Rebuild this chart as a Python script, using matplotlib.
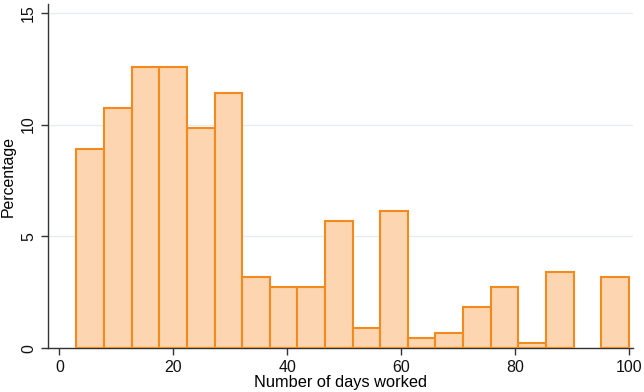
import numpy as np
import matplotlib
matplotlib.use("Agg")
import matplotlib.pyplot as plt

# histogram bins (days worked) and percentage per bin
bin_left = [3.0, 7.85, 12.7, 17.55, 22.4, 27.25, 32.1, 36.95, 41.8, 46.65,
            51.5, 56.35, 61.2, 66.05, 70.9, 75.75, 80.6, 85.45, 90.3, 95.15]
bin_width = 4.85
percent = [8.9, 10.74, 12.56, 12.56, 9.83, 11.42, 3.19, 2.74, 2.74, 5.70,
           0.91, 6.14, 0.43, 0.68, 1.82, 2.74, 0.24, 3.41, 0.0, 3.19]

x_ticks = [0, 20, 40, 60, 80, 100]
y_ticks = [0, 5, 10, 15]

plt.rcParams['font.family'] = ['Liberation Sans', 'DejaVu Sans']

fig = plt.figure(figsize=(6.44, 3.92), dpi=100)
ax = fig.add_axes([0.0745, 0.112, 0.909, 0.878])

# drop empty bins so no flat edge is drawn on the axis
for left, h in zip(bin_left, percent):
    if h <= 0:
        continue
    ax.bar(left, h, width=bin_width, align='edge', color='#FDD5B0',
           edgecolor='#F28A1E', linewidth=1.5, zorder=3)

ax.set_xlim(-2, 100.8)
ax.set_ylim(0, 15.4)
ax.set_xticks(x_ticks)
ax.set_yticks(y_ticks)
ax.yaxis.grid(True, color='#E6EDF2', linewidth=1.0, zorder=0)
ax.xaxis.grid(False)

for s in ['top', 'right']:
    ax.spines[s].set_visible(False)
for s in ['left', 'bottom']:
    ax.spines[s].set_color('#333333')
    ax.spines[s].set_linewidth(1.0)

ax.tick_params(axis='both', length=5, width=1.0, color='#333333',
               labelsize=11.5, labelcolor='#111111')
for lab in ax.get_yticklabels():
    lab.set_rotation(90)
    lab.set_va('center')

ax.set_xlabel('Number of days worked', fontsize=11.8, labelpad=0)
ax.set_ylabel('Percentage', fontsize=11.4, labelpad=4)

fig.savefig('out.png', dpi=100)
